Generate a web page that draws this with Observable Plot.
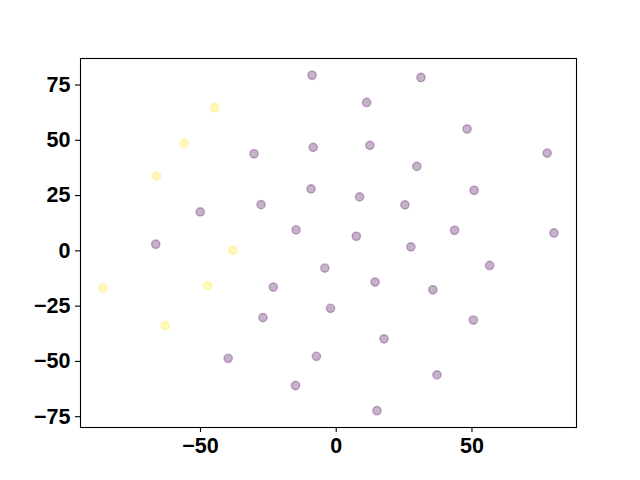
<!DOCTYPE html>
<html>
<head>
<meta charset="utf-8">
<script src="https://cdn.jsdelivr.net/npm/d3@7"></script>
<script src="https://cdn.jsdelivr.net/npm/@observablehq/plot@0.6"></script>
<style>
  html, body { margin: 0; padding: 0; background: #ffffff; }
</style>
</head>
<body>
<div id="chart"></div>
<script>
// Cluster 0 (purple) point coordinates
const purpleX = [-8.9, -30.3, -8.5, -9.3, -27.7, -50.1, -14.8, -66.5, 31.2, 11.2, 48.2, 12.4, 77.7, 29.7, 8.6, 50.8, 25.3, 7.4, 43.6, 80.2, 27.5, -39.8, -23.2, -27.0, -4.2, -2.1, -7.3, -15.0, 56.5, 14.3, 35.6, 50.5, 17.6, 37.1, 15.0];
const purpleY = [79.4, 43.9, 46.8, 28.0, 20.9, 17.6, 9.5, 3.0, 78.4, 67.1, 55.1, 47.7, 44.2, 38.2, 24.4, 27.4, 20.8, 6.6, 9.3, 8.1, 1.8, -48.6, -16.4, -30.2, -7.8, -26.0, -47.7, -60.9, -6.6, -14.1, -17.6, -31.3, -39.8, -56.1, -72.3];
// Cluster 1 (yellow) point coordinates
const yellowX = [-44.8, -56.0, -66.2, -38.1, -85.9, -47.4, -63.0];
const yellowY = [64.8, 48.6, 33.8, 0.3, -16.8, -15.8, -33.8];

const xTicks = [-50, 0, 50];
const yTicks = [-75, -50, -25, 0, 25, 50, 75];

const colors = ["#440154", "#fde725"];

const points = [
  ...purpleX.map((x, i) => ({x, y: purpleY[i], c: 0})),
  ...yellowX.map((x, i) => ({x, y: yellowY[i], c: 1}))
];

const allX = [...purpleX, ...yellowX];
const allY = [...purpleY, ...yellowY];
const pad = (lo, hi) => { const m = (hi - lo) * 0.05; return [lo - m, hi + m]; };
const xDom = pad(d3.min(allX), d3.max(allX));
const yDom = pad(d3.min(allY), d3.max(allY));

const fmt = d => d < 0 ? "\u2212" + Math.abs(d) : String(d);

const chart = Plot.plot({
  width: 640,
  height: 480,
  marginLeft: 80,
  marginRight: 64,
  marginTop: 58,
  marginBottom: 53,
  style: {fontFamily: "'Liberation Sans', Arial, sans-serif", fontSize: "21.5px", fontWeight: "bold", color: "#000", background: "#fff"},
  x: {domain: xDom, ticks: xTicks, tickFormat: fmt},
  y: {domain: yDom, ticks: yTicks, tickFormat: fmt},
  marks: [
    Plot.axisX({ticks: xTicks, tickFormat: fmt, tickSize: 5, tickPadding: 5, label: null, fontSize: 21.5, fontWeight: "bold", strokeWidth: 1.1}),
    Plot.axisY({ticks: yTicks, tickFormat: fmt, tickSize: 5, tickPadding: 5, label: null, fontSize: 21.5, fontWeight: "bold", strokeWidth: 1.1}),
    Plot.dot(points, {
      x: "x", y: "y", r: 4.17,
      fill: d => colors[d.c], fillOpacity: 0.3,
      stroke: d => colors[d.c], strokeOpacity: 0.3, strokeWidth: 1.39
    }),
    Plot.frame({stroke: "#000", strokeWidth: 1.1})
  ]
});
document.getElementById("chart").appendChild(chart);
</script>
</body>
</html>
